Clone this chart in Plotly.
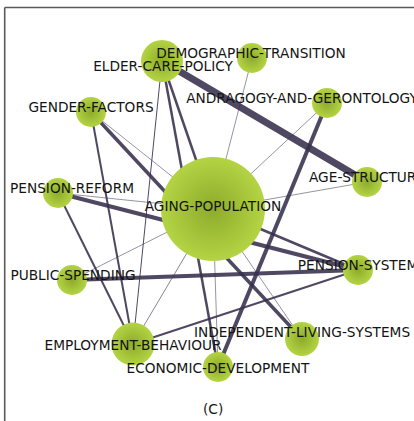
import plotly.graph_objects as go

# ---- data ----
nodes = ["AGING-POPULATION", "ELDER-CARE-POLICY", "DEMOGRAPHIC-TRANSITION",
         "ANDRAGOGY-AND-GERONTOLOGY", "GENDER-FACTORS", "AGE-STRUCTURE",
         "PENSION-REFORM", "PENSION-SYSTEM", "PUBLIC-SPENDING",
         "EMPLOYMENT-BEHAVIOUR", "INDEPENDENT-LIVING-SYSTEMS", "ECONOMIC-DEVELOPMENT"]
node_x = [213, 162, 252, 327, 91, 367, 58, 358, 72, 133, 302, 218]
node_y = [209, 61, 58, 103, 112, 182, 193, 270, 280, 344, 339, 367]
node_size = [104, 42, 30, 30, 30, 30, 30, 30, 30, 43, 34, 30]
label_x = [213, 163, 251, 302, 91, 367, 72, 358, 73, 133, 302, 218]
label_y = [207, 67, 54, 99, 108, 178, 189, 266, 276, 346, 333, 369]

edge_src = ["ELDER-CARE-POLICY", "ELDER-CARE-POLICY", "ELDER-CARE-POLICY", "ELDER-CARE-POLICY",
            "DEMOGRAPHIC-TRANSITION", "ANDRAGOGY-AND-GERONTOLOGY", "ANDRAGOGY-AND-GERONTOLOGY",
            "GENDER-FACTORS", "GENDER-FACTORS", "GENDER-FACTORS", "AGE-STRUCTURE",
            "PENSION-REFORM", "PENSION-REFORM", "PENSION-REFORM", "PUBLIC-SPENDING",
            "PUBLIC-SPENDING", "EMPLOYMENT-BEHAVIOUR", "EMPLOYMENT-BEHAVIOUR",
            "AGING-POPULATION", "AGING-POPULATION", "AGING-POPULATION"]
edge_dst = ["AGE-STRUCTURE", "AGING-POPULATION", "ECONOMIC-DEVELOPMENT", "EMPLOYMENT-BEHAVIOUR",
            "AGING-POPULATION", "AGING-POPULATION", "ECONOMIC-DEVELOPMENT",
            "AGING-POPULATION", "INDEPENDENT-LIVING-SYSTEMS", "EMPLOYMENT-BEHAVIOUR", "AGING-POPULATION",
            "AGING-POPULATION", "PENSION-SYSTEM", "EMPLOYMENT-BEHAVIOUR", "PENSION-SYSTEM",
            "AGING-POPULATION", "PENSION-SYSTEM", "AGING-POPULATION",
            "PENSION-SYSTEM", "INDEPENDENT-LIVING-SYSTEMS", "ECONOMIC-DEVELOPMENT"]
edge_weight = [7, 2.5, 2.5, 1, 0.7, 0.7, 4, 0.7, 3.5, 2, 0.7, 0.7, 4, 2, 4, 0.7, 2, 0.8, 2.5, 0.7, 0.7]

panel_label = "(C)"

# ---- figure ----
idx = {n: i for i, n in enumerate(nodes)}
fig = go.Figure()

order = sorted(range(len(edge_src)), key=lambda k: edge_weight[k])
for k in order:
    a, b = idx[edge_src[k]], idx[edge_dst[k]]
    alpha = 0.75 if edge_weight[k] < 1 else 0.88
    fig.add_trace(go.Scatter(
        x=[node_x[a], node_x[b]], y=[node_y[a], node_y[b]], mode="lines",
        line=dict(color=f"rgba(55,47,76,{alpha})", width=edge_weight[k]),
        hoverinfo="skip", showlegend=False))

fig.add_trace(go.Scatter(
    x=node_x, y=node_y, mode="markers",
    marker=dict(size=node_size, color="#b4d444",
                gradient=dict(type="radial", color="#8dab2b"),
                line=dict(width=0), opacity=1),
    hoverinfo="skip", showlegend=False))

fig.add_trace(go.Scatter(
    x=label_x, y=[v + 1 for v in label_y], mode="text", text=nodes,
    textfont=dict(family="DejaVu Sans", size=13.7, color="#141414"),
    textposition="middle center", hoverinfo="skip", showlegend=False))

fig.add_annotation(x=213, y=409, text=panel_label, showarrow=False,
                   font=dict(family="DejaVu Sans", size=13.7, color="#141414"))

# frame
fig.add_shape(type="line", x0=4.7, x1=420, y0=7.5, y1=7.5,
              line=dict(color="#5a5a5a", width=1.6))
fig.add_shape(type="line", x0=4.7, x1=4.7, y0=7.5, y1=425,
              line=dict(color="#5a5a5a", width=1.6))

fig.update_layout(
    width=414, height=421, margin=dict(l=0, r=0, t=0, b=0),
    paper_bgcolor="white", plot_bgcolor="white",
    xaxis=dict(range=[0, 414], visible=False, fixedrange=True),
    yaxis=dict(range=[421, 0], visible=False, fixedrange=True),
    showlegend=False)

fig.write_html("out.html", config={"displayModeBar": False},
               post_script="document.body.style.margin='0';")
